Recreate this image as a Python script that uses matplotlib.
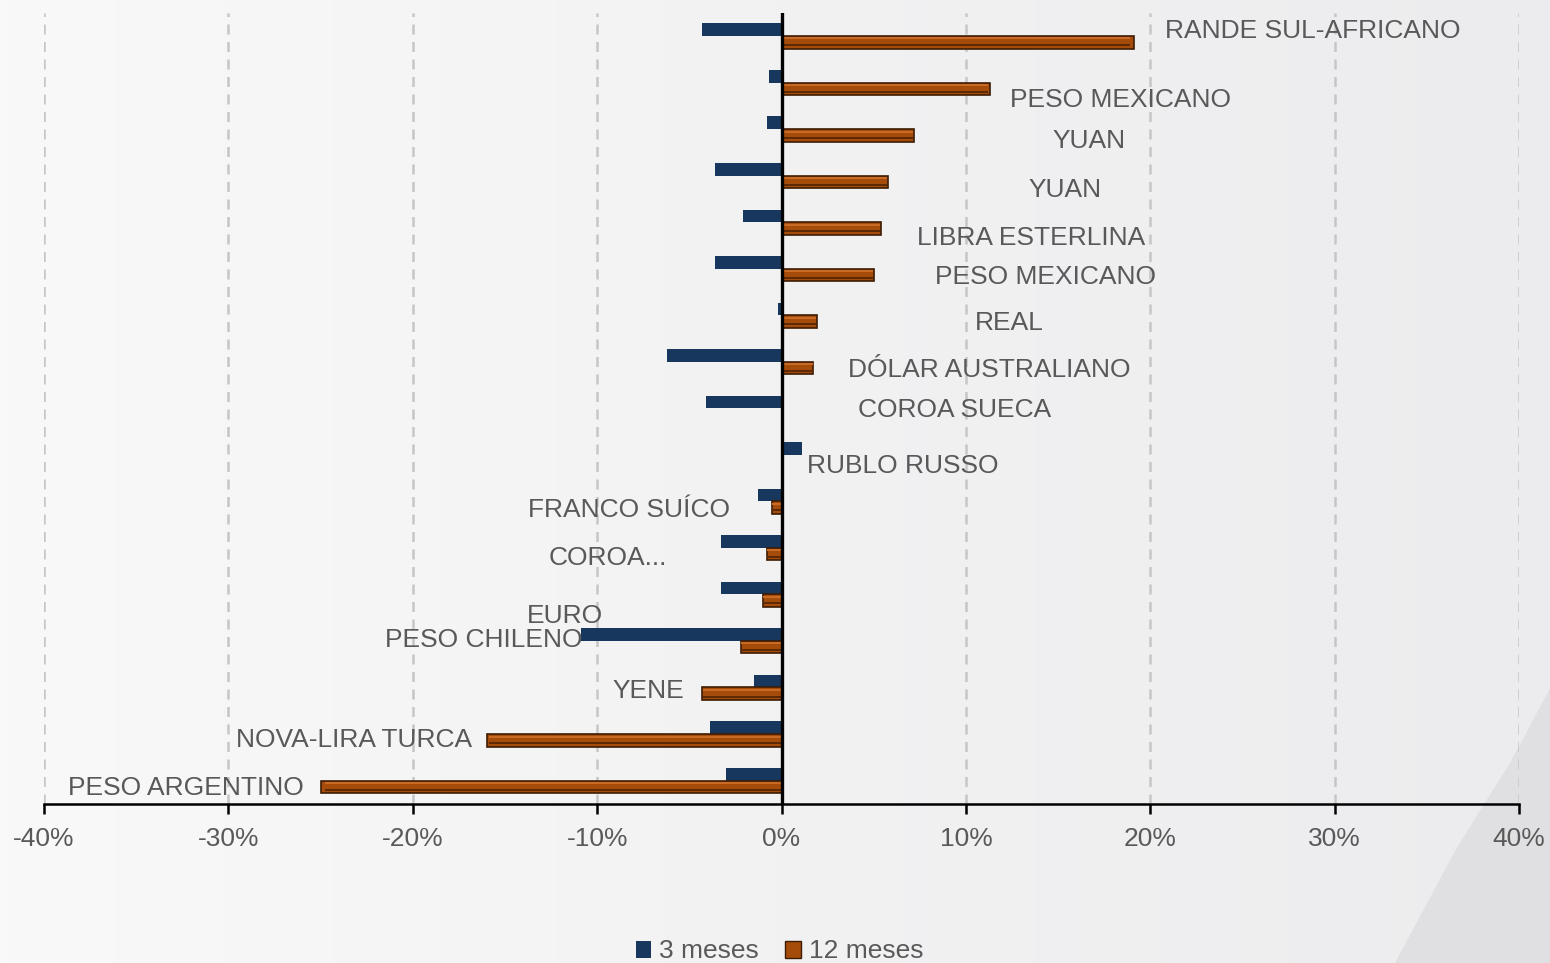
import matplotlib.pyplot as plt
import numpy as np
from matplotlib.patches import Patch, Polygon
from matplotlib.colors import LinearSegmentedColormap
from matplotlib.ticker import FuncFormatter

plt.rcParams['font.family'] = ['Liberation Sans', 'DejaVu Sans']

# data (percent change), top to bottom
moedas = ['RANDE SUL-AFRICANO', 'PESO MEXICANO', 'YUAN', 'YUAN', 'LIBRA ESTERLINA',
          'PESO MEXICANO', 'REAL', 'DÓLAR AUSTRALIANO', 'COROA SUECA', 'RUBLO RUSSO',
          'FRANCO SUÍCO', 'COROA...', 'EURO', 'PESO CHILENO', 'YENE',
          'NOVA-LIRA TURCA', 'PESO ARGENTINO']
tres_meses = [-4.3, -0.7, -0.8, -3.6, -2.1, -3.6, -0.2, -6.2, -4.1, 1.1,
              -1.3, -3.3, -3.3, -10.9, -1.5, -3.9, -3.0]
doze_meses = [19.1, 11.3, 7.2, 5.8, 5.4, 5.0, 1.9, 1.7, 0.1, 0.05,
              -0.5, -0.8, -1.0, -2.2, -4.3, -16.0, -25.0]

# where the category labels sit (x in %, y offset in category units)
label_x = [20.8, 12.4, 14.7, 13.4, 7.35, 8.3, 10.5, 3.6, 4.15, 1.4,
           -2.8, -6.2, -9.7, -10.8, -5.3, -16.8, -25.9]
label_dy = [-0.10, 0.38, 0.26, 0.31, 0.35, 0.18, 0.16, 0.18, 0.03, 0.24,
            0.18, 0.21, 0.46, -0.01, 0.07, 0.12, 0.15]

navy = '#17375E'
brown = '#A64C0B'
txt = '#595959'

fig = plt.figure(figsize=(15.5, 9.63), dpi=100)

# background gradient + diagonal shade
bg = fig.add_axes([0, 0, 1, 1], zorder=-10)
grad = np.linspace(0, 1, 256)[None, :]
bg.imshow(grad, aspect='auto', extent=[0, 1, 0, 1],
          cmap=LinearSegmentedColormap.from_list('bg', ['#f9f9fa', '#f2f2f3', '#ececee']))
bg.add_patch(Polygon([[1.0, 0.285], [0.975, 0.21], [0.94, 0.12], [0.90, 0.0], [1.0, 0.0]],
                     closed=True, color='#e0e0e2', lw=0))
bg.set_xlim(0, 1)
bg.set_ylim(0, 1)
bg.axis('off')

ax = fig.add_axes([44 / 1550, 1 - 803.8 / 963, (1519 - 44) / 1550, (803.8 - 12.7) / 963])
ax.patch.set_alpha(0)

y = np.arange(len(moedas))
h = 0.27
d12 = np.array(doze_meses)
ax.barh(y - h / 2, tres_meses, height=h, color=navy, zorder=3)
ax.barh(y + h / 2, doze_meses, height=h, color=brown, edgecolor='#3d1c03', lw=1.2, zorder=3)
# bevel: light top strip, dark lower strip
ax.barh(y + h / 2 - h * 0.30, d12 * 0.99, height=h * 0.16,
        color='#C96A25', lw=0, zorder=4)
ax.barh(y + h / 2 + h * 0.22, d12 * 0.99, height=h * 0.16,
        color='#5e2a05', lw=0, zorder=4)

for i, nome in enumerate(moedas):
    ha = 'left' if label_x[i] > 0 else 'right'
    ax.text(label_x[i], i + label_dy[i], nome, ha=ha, va='center',
            fontsize=19, color=txt, zorder=5)

ax.set_xlim(-40, 40)
ax.set_ylim(len(moedas) - 0.5, -0.5)
ax.set_xticks(np.arange(-40, 41, 10))
ax.xaxis.set_major_formatter(FuncFormatter(lambda v, p: f'{v:.0f}%'))
ax.set_yticks([])
ax.tick_params(axis='x', length=7, width=1.8, color='black', labelsize=19,
               labelcolor=txt, pad=10)
ax.grid(axis='x', color='#c6c6c6', ls=(0, (4, 3)), lw=1.8, zorder=1)
ax.axvline(0, color='black', lw=2.4, zorder=6)

for s in ['top', 'right', 'left']:
    ax.spines[s].set_visible(False)
ax.spines['bottom'].set_linewidth(1.8)
ax.spines['bottom'].set_color('black')

handles = [Patch(facecolor=navy, label='3 meses'),
           Patch(facecolor=brown, edgecolor='#3d1c03', label='12 meses')]
fig.legend(handles=handles, loc='center', bbox_to_anchor=(0.503, 0.012), ncol=2,
           frameon=False, fontsize=19, labelcolor=txt, handlelength=0.6,
           handleheight=0.6, handletextpad=0.3, columnspacing=1.0)

fig.savefig('out.png', dpi=100)
